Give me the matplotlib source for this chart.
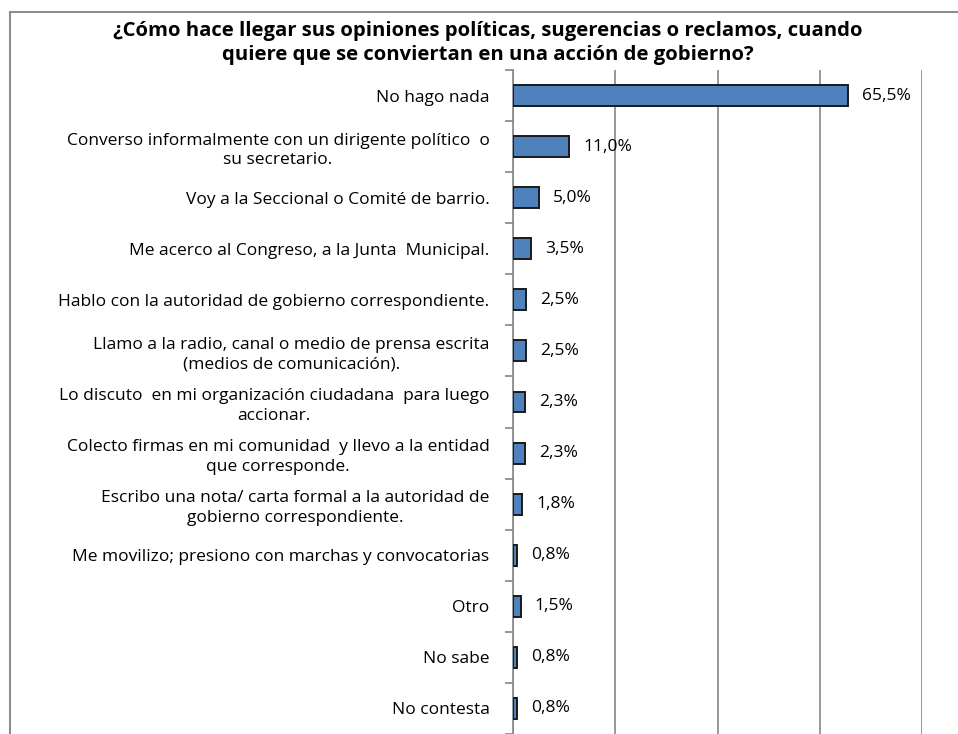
import matplotlib
matplotlib.use("Agg")
import matplotlib.pyplot as plt
from matplotlib.patches import Rectangle

categories = [
    "No hago nada",
    "Converso informalmente con un dirigente político  o\nsu secretario.",
    "Voy a la Seccional o Comité de barrio.",
    "Me acerco al Congreso, a la Junta  Municipal.",
    "Hablo con la autoridad de gobierno correspondiente.",
    "Llamo a la radio, canal o medio de prensa escrita\n(medios de comunicación).",
    "Lo discuto  en mi organización ciudadana  para luego\naccionar.",
    "Colecto firmas en mi comunidad  y llevo a la entidad\nque corresponde.",
    "Escribo una nota/ carta formal a la autoridad de\ngobierno correspondiente.",
    "Me movilizo; presiono con marchas y convocatorias",
    "Otro",
    "No sabe",
    "No contesta",
]
values = [65.5, 11.0, 5.0, 3.5, 2.5, 2.5, 2.3, 2.3, 1.8, 0.8, 1.5, 0.8, 0.8]
value_labels = ["65,5%", "11,0%", "5,0%", "3,5%", "2,5%", "2,5%", "2,3%", "2,3%",
                "1,8%", "0,8%", "1,5%", "0,8%", "0,8%"]
title = ("¿Cómo hace llegar sus opiniones políticas, sugerencias o reclamos, cuando\n"
         "quiere que se conviertan en una acción de gobierno?")

FONT = "Open Sans"
plt.rcParams["font.family"] = [FONT, "DejaVu Sans"]

W, H = 958, 734
fig = plt.figure(figsize=(W / 100, H / 100), dpi=100)
fig.patch.set_facecolor("white")

# outer chart border (cropped on right and bottom)
fig.patches.append(Rectangle((10 / W, -0.1), 2.0, (1 - 12 / H) + 0.1,
                             transform=fig.transFigure, fill=False,
                             edgecolor="#8c8c8c", linewidth=1.5))

ax = fig.add_axes([513 / W, 0.0, 409 / W, 1 - 70 / H])
n = len(categories)
ypos = list(range(n))
ax.barh(ypos, values, height=0.41, color="#4f81bd", edgecolor="#1a1a1a",
        linewidth=1.4, zorder=3)
ax.set_xlim(0, 80)
ax.set_ylim(n - 0.5, -0.5)
ax.set_xticks([0, 20, 40, 60, 80])
ax.xaxis.grid(True, color="#868686", linewidth=1.2, zorder=0)
ax.tick_params(axis="x", length=0, labelbottom=False)
for s in ["top", "right", "bottom"]:
    ax.spines[s].set_visible(False)
ax.spines["left"].set_color("#868686")
ax.spines["left"].set_linewidth(1.2)

ax.set_yticks(ypos)
ax.set_yticklabels(categories, fontsize=12.5)
ax.tick_params(axis="y", which="major", length=0, pad=17)
ax.set_yticks([i - 0.5 for i in range(n + 1)], minor=True)
ax.tick_params(axis="y", which="minor", length=6, color="#868686", width=1.2)
for t in ax.get_yticklabels():
    t.set_multialignment("center")
    t.set_linespacing(1.3)

for y, v, lab in zip(ypos, values, value_labels):
    ax.annotate(lab, (v, y), xytext=(10, 0), textcoords="offset points",
                va="center", ha="left", fontsize=12.5)

fig.text(488 / W, 1 - 21 / H, title, ha="center", va="top",
         fontsize=14.6, fontweight="bold", linespacing=1.25)

fig.savefig("out.png", dpi=100)
